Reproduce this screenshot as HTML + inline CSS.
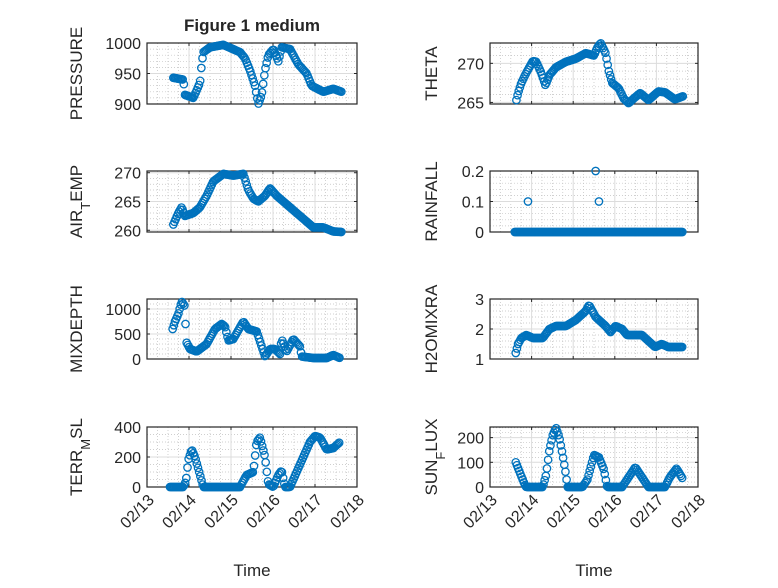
<!DOCTYPE html>
<html><head><meta charset="utf-8"><style>
html,body{margin:0;padding:0;background:#fff;}
svg text{font-family:"Liberation Sans","DejaVu Sans",sans-serif;fill:#262626;}
</style></head><body>
<svg id="s" width="778" height="583" xmlns="http://www.w3.org/2000/svg"></svg>
<script>
const S=document.getElementById('s');
const NS='http://www.w3.org/2000/svg';
function el(t,a,p){const e=document.createElementNS(NS,t);for(const k in a)e.setAttribute(k,a[k]);(p||S).appendChild(e);return e;}
const cols=[{x0:147,x1:357},{x0:490,x1:698}];
const rows=[[43,104],[171,232],[299,359],[427,487]];
function lp(pts,d){if(d<=pts[0][0])return pts[0][1];for(let i=1;i<pts.length;i++){if(d<=pts[i][0]){const a=pts[i-1],b=pts[i];return a[1]+(b[1]-a[1])*(d-a[0])/(b[0]-a[0]);}}return pts[pts.length-1][1];}
function conv(arr,c){return arr.map(p=>[(p[0]/3-c)/42,p[1]]);}
const P=[
{c:0,r:0,lab:'PRESSURE',yl:[900,1000],ticks:[900,950,1000],minor:10,dc:87,pts:[[340,943],[370,940],[375,915],[400,910],[420,935],[425,965],[430,985],[450,993],[490,997],[540,985],[555,975],[570,955],[585,930],[595,900],[605,915],[615,955],[625,980],[640,990],[655,970],[665,993],[690,990],[715,965],[740,950],[755,930],[790,920],[820,925],[845,920]]},
{c:0,r:1,lab:['AIR','T','EMP'],yl:[259.7,270.3],ticks:[260,265,270],minor:1,dc:87,pts:[[340,261],[355,263],[365,264],[375,262.5],[400,263],[420,264],[440,266],[460,268.5],[490,269.8],[520,269.5],[550,269.8],[565,267],[580,265.5],[595,265],[615,266],[630,267.3],[650,266],[670,265],[700,263.5],[730,262],[760,260.5],[790,260.5],[820,259.8],[845,259.7]]},
{c:0,r:2,lab:'MIXDEPTH',yl:[0,1200],ticks:[0,500,1000],minor:100,dc:47,pts:[[218,600],[225,750],[235,900],[245,1150],[255,1050],[258,350],[270,200],[290,150],[320,300],[345,600],[365,700],[375,650],[385,370],[400,400],[430,750],[445,600],[470,550],[480,350],[495,50],[510,200],[525,200],[540,100],[545,400],[560,150],[580,400],[600,250],[605,50],[640,20],[680,20],[700,80],[720,20]]},
{c:0,r:3,lab:['TERR','M','SL'],yl:[0,400],ticks:[0,200,400],minor:50,dc:47,pts:[[210,0],[250,0],[258,40],[265,180],[275,250],[285,200],[300,80],[310,0],[380,0],[420,0],[440,80],[460,100],[470,300],[480,330],[495,200],[500,110],[505,20],[520,0],[535,80],[545,110],[555,0],[570,0],[590,100],[610,200],[630,300],[645,340],[660,330],[680,250],[700,260],[720,300]]},
{c:1,r:0,lab:'THETA',yl:[264.8,272.6],ticks:[265,270],minor:1,dc:70,pts:[[290,265.3],[295,266.2],[305,267.5],[320,268.8],[340,270.3],[350,270.2],[365,268.8],[378,267.2],[390,268.5],[410,269.5],[440,270.2],[470,270.6],[500,271.3],[525,271],[535,272],[545,272.6],[560,271.3],[570,269],[580,267.5],[600,266.8],[615,265.5],[630,264.9],[645,265.5],[665,266.2],[690,265.3],[720,266.4],[740,266.3],[770,265.4],[795,265.8]]},
{c:1,r:1,lab:'RAINFALL',yl:[0,0.2],ticks:[0,0.1,0.2],minor:0.02,dc:70,pts:[[285,0],[795,0]],extra:[[325,0.1],[530,0.2],[540,0.1]]},
{c:1,r:2,lab:'H2OMIXRA',yl:[1,3],ticks:[1,2,3],minor:0.2,dc:70,pts:[[288,1.2],[295,1.5],[305,1.7],[320,1.8],[340,1.7],[370,1.7],[390,2.0],[410,2.1],[440,2.1],[470,2.3],[500,2.6],[510,2.8],[530,2.4],[560,2.1],[575,1.9],[590,2.1],[610,2.0],[625,1.8],[670,1.8],[690,1.6],[710,1.4],[730,1.5],[750,1.4],[795,1.4]]},
{c:1,r:3,lab:['SUN','F','LUX'],yl:[0,243],ticks:[0,100,200],minor:20,dc:70,pts:[[288,100],[300,60],[315,10],[320,0],[370,0],[380,50],[390,150],[400,210],[410,240],[420,200],[430,130],[440,50],[445,0],[490,0],[505,30],[515,80],[525,130],[540,120],[555,70],[565,0],[610,0],[630,40],[650,80],[670,40],[690,0],[740,0],[755,40],[775,75],[795,30]]}
];
for(const p of P){
 const C=cols[p.c],[y0,y1]=rows[p.r];
 const X=d=>C.x0+d*(C.x1-C.x0)/5;
 const Y=v=>y1-(v-p.yl[0])/(p.yl[1]-p.yl[0])*(y1-y0);
 el('rect',{x:C.x0,y:y0,width:C.x1-C.x0,height:y1-y0,fill:'#fff'});
 const g=el('g',{});
 for(let d=0.25;d<5;d+=0.25){if(Math.abs(d-Math.round(d))<1e-6)continue;el('line',{x1:X(d),x2:X(d),y1:y0,y2:y1,stroke:'#c0c0c0','stroke-width':0.7,'stroke-dasharray':'1,2'},g);}
 const mstart=Math.ceil(p.yl[0]/p.minor)*p.minor;
 for(let v=mstart;v<=p.yl[1]+1e-9;v+=p.minor){if(p.ticks.some(t=>Math.abs(t-v)<1e-6))continue;el('line',{x1:C.x0,x2:C.x1,y1:Y(v),y2:Y(v),stroke:'#c0c0c0','stroke-width':0.7,'stroke-dasharray':'1,2'},g);}
 for(let d=1;d<5;d++)el('line',{x1:X(d),x2:X(d),y1:y0,y2:y1,stroke:'#dcdcdc','stroke-width':1},g);
 for(const t of p.ticks){el('line',{x1:C.x0,x2:C.x1,y1:Y(t),y2:Y(t),stroke:'#dcdcdc','stroke-width':1},g);
  el('line',{x1:C.x0,x2:C.x0+3,y1:Y(t),y2:Y(t),stroke:'#262626'});el('line',{x1:C.x1-3,x2:C.x1,y1:Y(t),y2:Y(t),stroke:'#262626'});
  const tx=el('text',{x:C.x0-6,y:Y(t)+6,'text-anchor':'end','font-size':16});tx.textContent=String(t);}
 for(let d=0;d<=5;d++){el('line',{x1:X(d),x2:X(d),y1:y1,y2:y1-3,stroke:'#262626'});el('line',{x1:X(d),x2:X(d),y1:y0,y2:y0+3,stroke:'#262626'});
  if(p.r==3){const tx=el('text',{'text-anchor':'end','font-size':16,transform:`translate(${X(d)+8},${y1+14}) rotate(-45)`});tx.textContent='02/1'+(3+d);}}
 el('rect',{x:C.x0,y:y0,width:C.x1-C.x0,height:y1-y0,fill:'none',stroke:'#262626','stroke-width':1.2});
 const pts=conv(p.pts,p.dc);
 const dg=el('g',{fill:'none',stroke:'#0072BD','stroke-width':1.3});
 for(let d=pts[0][0];d<=pts[pts.length-1][0]+1e-9;d+=1/36){el('circle',{cx:X(d),cy:Y(lp(pts,d)),r:3.7},dg);}
 if(p.extra)for(const e of conv(p.extra,p.dc))el('circle',{cx:X(e[0]),cy:Y(e[1]),r:3.7},dg);
 const lx=p.c==0?82:437, ly=(y0+y1)/2;
 const t=el('text',{'text-anchor':'middle','font-size':17,transform:`translate(${lx},${ly}) rotate(-90)`});
 if(typeof p.lab==='string')t.textContent=p.lab;else{
  const a=el('tspan',{},t);a.textContent=p.lab[0];const b=el('tspan',{'baseline-shift':'sub','font-size':13},t);b.textContent=p.lab[1];const c=el('tspan',{'baseline-shift':'0'},t);c.textContent=p.lab[2];}
}
const ti=el('text',{x:252,y:31,'text-anchor':'middle','font-size':17,'font-weight':'bold',fill:'#000'});ti.textContent='Figure 1 medium';
for(const x of [252,594]){const t=el('text',{x:x,y:576,'text-anchor':'middle','font-size':17});t.textContent='Time';}
</script>
</body></html>
